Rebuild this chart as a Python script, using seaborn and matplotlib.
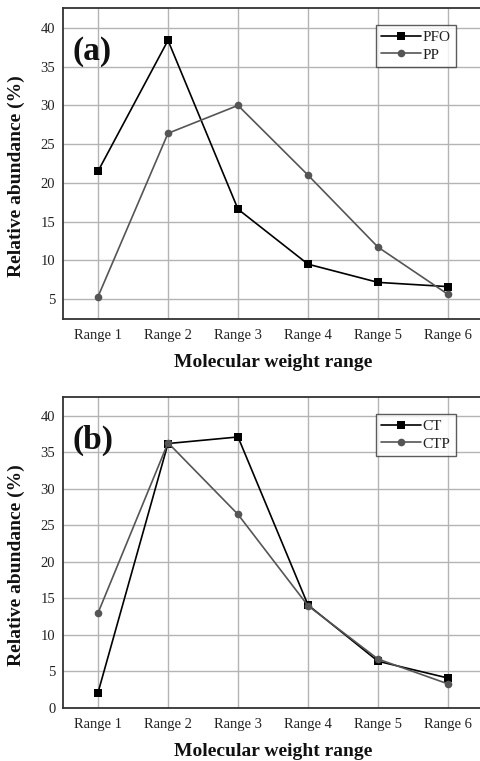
import matplotlib
matplotlib.use("Agg")
import matplotlib.pyplot as plt
import seaborn as sns
import pandas as pd

categories = ["Range 1", "Range 2", "Range 3", "Range 4", "Range 5", "Range 6"]
pfo = [21.5, 38.4, 16.6, 9.5, 7.15, 6.6]
pp = [5.3, 26.4, 30.0, 21.0, 11.7, 5.6]
ct = [2.1, 36.2, 37.1, 14.1, 6.4, 4.1]
ctp = [13.0, 36.3, 26.5, 14.0, 6.7, 3.3]
yticks_a = [5, 10, 15, 20, 25, 30, 35, 40]
yticks_b = [0, 5, 10, 15, 20, 25, 30, 35, 40]

sns.set_theme(style="white")
plt.rcParams["font.family"] = ["Liberation Serif", "DejaVu Serif"]

fig = plt.figure(figsize=(4.8, 7.61), dpi=100)
ax_a = fig.add_axes([63 / 480, 1 - 319 / 761, 420 / 480, 311 / 761])
ax_b = fig.add_axes([63 / 480, 1 - 708 / 761, 420 / 480, 311 / 761])

BLACK = "#000000"
GRAY = "#555555"
TEXT = "#222222"


def draw(ax, s1, s2, n1, n2, yticks, ylim, tag):
    df = pd.DataFrame({
        "cat": categories * 2,
        "val": list(s1) + list(s2),
        "series": [n1] * len(categories) + [n2] * len(categories),
    })
    sns.lineplot(data=df, x="cat", y="val", hue="series", style="series",
                 palette={n1: BLACK, n2: GRAY},
                 markers={n1: "s", n2: "o"}, dashes=False,
                 markersize=5.5, linewidth=1.2, markeredgewidth=0,
                 sort=False, ax=ax)
    ax.set_xlim(-0.5, 5.5)
    ax.set_ylim(*ylim)
    ax.set_yticks(yticks)
    ax.set_xticks(range(len(categories)))
    ax.set_xticklabels(categories)
    ax.grid(True, color="#b4b4b4", linewidth=1.0)
    ax.set_axisbelow(True)
    ax.tick_params(axis="y", length=0, labelsize=10.5, colors=TEXT, pad=5.5)
    ax.tick_params(axis="x", length=0, labelsize=10.5, colors=TEXT, pad=7)
    for name in ["left", "bottom", "top"]:
        ax.spines[name].set_color("#333333")
        ax.spines[name].set_linewidth(1.3)
    ax.spines["right"].set_visible(False)
    ax.set_xlabel("Molecular weight range", fontsize=14, fontweight="bold",
                  color="#111111", labelpad=9)
    ax.set_ylabel("Relative abundance (%)", fontsize=14, fontweight="bold",
                  color="#111111")
    ax.yaxis.set_label_coords(-0.09, 0.46)
    ax.text(0.022, 0.91, tag, transform=ax.transAxes, fontsize=24,
            fontweight="bold", color="#111111", va="top", ha="left")
    leg = ax.legend(loc="upper right", bbox_to_anchor=(0.935, 0.945),
                    fontsize=11, frameon=True, fancybox=False,
                    handlelength=2.6, handletextpad=0.1, borderpad=0.35,
                    labelspacing=0.25, borderaxespad=0)
    leg.get_frame().set_edgecolor("#333333")
    leg.get_frame().set_linewidth(1.0)
    for t in leg.get_texts():
        t.set_color(TEXT)


draw(ax_a, pfo, pp, "PFO", "PP", yticks_a, (2.42, 42.58), "(a)")
draw(ax_b, ct, ctp, "CT", "CTP", yticks_b, (0, 42.57), "(b)")

fig.savefig("out.png", dpi=100)
